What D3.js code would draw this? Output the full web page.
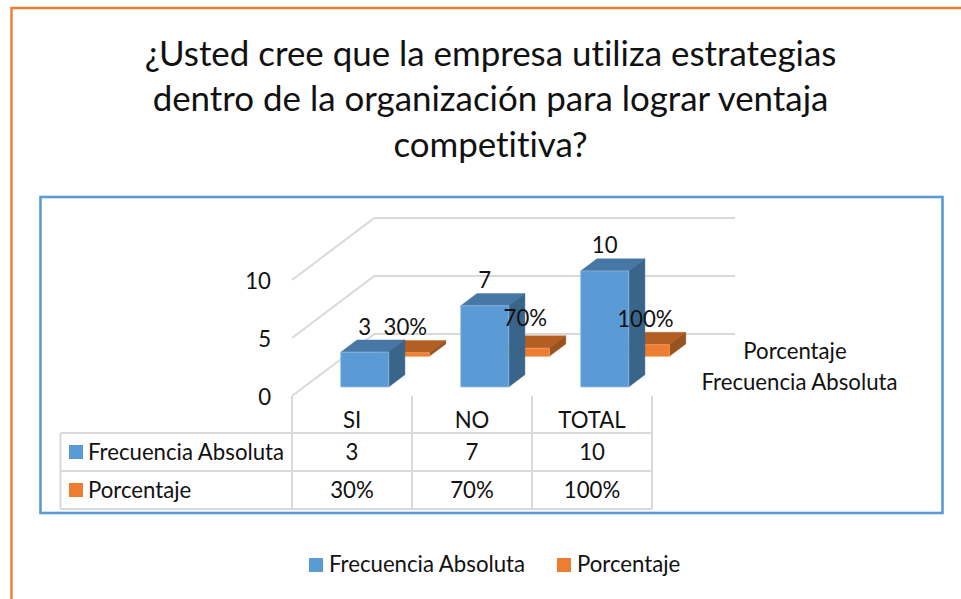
<!DOCTYPE html>
<html><head><meta charset="utf-8">
<script src="https://cdn.jsdelivr.net/npm/d3@7"></script>
<style>html,body{margin:0;padding:0;background:#fff}svg{display:block}text{font-family:Lato,"Open Sans",sans-serif;fill:#111;font-variant-ligatures:none;font-feature-settings:"liga" 0}</style>
</head><body><svg id="c" width="961" height="599"></svg>
<script>
const titleLines = ["¿Usted cree que la empresa utiliza estrategias","dentro de la organización para lograr ventaja","competitiva?"];
const categories = ["SI","NO","TOTAL"];
const frecuencia = [3,7,10];
const porcentaje = [0.3,0.7,1];
const porcentajeLabels = ["30%","70%","100%"];
const yTicks = [0,5,10];
const seriesNames = ["Frecuencia Absoluta","Porcentaje"];

const svg = d3.select("#c");
const FS = 22.2;
const C = {blue:"#5B9BD5",blueTop:"#4777A4",blueSide:"#3A658B",blueEdge:"#8DB8E0",
  orange:"#ED7D31",orangeTop:"#B35E22",orangeSide:"#9A521E",grid:"#D9D9D9"};

// frames
svg.append("path").attr("d","M11.5 599V8H961").attr("fill","none").attr("stroke",C.orange).attr("stroke-width",2.4);
svg.append("rect").attr("x",40.5).attr("y",197).attr("width",902).attr("height",316)
  .attr("fill","none").attr("stroke",C.blue).attr("stroke-width",2.6);

// title
svg.append("g").selectAll("text").data(titleLines).join("text")
  .attr("x",490.5).attr("y",(d,i)=>65.5+i*45.5).attr("text-anchor","middle").attr("font-size",34.9).text(d=>d);

// scales
const x = d3.scaleBand().domain(categories).range([292,652]).paddingInner(0).paddingOuter(0);
const y = d3.scaleLinear().domain([0,10]).range([396,280]);
const depthX = d3.scaleLinear().domain([0,1]).range([0,82.3]);
const depthY = d3.scaleLinear().domain([0,1]).range([0,-62]);
const barW = 48, barInset = 36.7;
const P = (px,v,d)=>[px+depthX(d), y(v)+depthY(d)];
const line = d3.line();

// walls & grid
const g = svg.append("g").attr("fill","none").attr("stroke",C.grid).attr("stroke-width",2);
yTicks.forEach(t=>{
  g.append("path").attr("d",line([P(292,t,0),P(292,t,1),[735,P(292,t,1)[1]]]));
});

// 3D bar
function bar(cat,v,dFront,dBack,cols){
  const x0=x(cat)+barInset, x1=x0+barW;
  const poly=(pts,fill,stroke)=>svg.append("path").attr("d",line(pts)+"Z").attr("fill",fill)
      .attr("stroke",stroke||fill).attr("stroke-width",stroke?0.8:0.4);
  poly([P(x0,v,dFront),P(x0,v,dBack),P(x1,v,dBack),P(x1,v,dFront)],cols[1]);
  poly([P(x1,0,dFront),P(x1,0,dBack),P(x1,v,dBack),P(x1,v,dFront)],cols[2]);
  poly([P(x0,0,dFront),P(x1,0,dFront),P(x1,v,dFront),P(x0,v,dFront)],cols[0],cols[3]);
}
const dBlue=[0.146,0.343], dOrange=[0.64,0.84];
const oCols=[C.orange,C.orangeTop,C.orangeSide,"#F29A5C"], bCols=[C.blue,C.blueTop,C.blueSide,C.blueEdge];
categories.forEach((c,i)=>bar(c,porcentaje[i],dOrange[0],dOrange[1],oCols));
categories.forEach((c,i)=>bar(c,frecuencia[i],dBlue[0],dBlue[1],bCols));

// data labels
const lab=(px,py,t)=>svg.append("text").attr("x",px).attr("y",py).attr("text-anchor","middle").attr("font-size",FS).text(t);
categories.forEach((c,i)=>{
  const xc=x(c)+barInset+barW/2;
  const a=P(xc,frecuencia[i],dBlue[0]); lab(a[0],a[1]-17.5,frecuencia[i]);
  const b=P(xc,porcentaje[i],dOrange[0]); lab(b[0],b[1]-(i===1?22:18),porcentajeLabels[i]);
});

// value axis
const ax=svg.append("g").attr("transform","translate(276,0)").call(d3.axisLeft(y).tickValues(yTicks).tickSize(0));
ax.select(".domain").remove();
ax.selectAll("text").attr("font-size",FS).attr("dy","0.4em").attr("x",-5).style("font-family","Lato").style("fill","#111");

// depth labels
svg.append("text").attr("x",795).attr("y",358.5).attr("text-anchor","middle").attr("font-size",FS).text(seriesNames[1]);
svg.append("text").attr("x",799.5).attr("y",389.5).attr("text-anchor","middle").attr("font-size",FS).text(seriesNames[0]);

// data table
const rowY=[433,471,509];
const t=svg.append("g").attr("stroke",C.grid).attr("stroke-width",2).attr("fill","none");
rowY.forEach(v=>t.append("line").attr("x1",60.5).attr("x2",652).attr("y1",v).attr("y2",v));
[292,...categories.map(c=>x(c)+x.bandwidth())].forEach(v=>t.append("line").attr("x1",v).attr("x2",v).attr("y1",396).attr("y2",509));
t.append("line").attr("x1",60.5).attr("x2",60.5).attr("y1",433).attr("y2",509);
const xa=svg.append("g").attr("transform","translate(0,396)").call(d3.axisBottom(x).tickSize(0));
xa.select(".domain").remove();
xa.selectAll("text").attr("font-size",FS).attr("y",0).attr("dy","31.5").style("font-family","Lato").style("fill","#111");
const rows=[[seriesNames[0],C.blue,frecuencia.map(String)],[seriesNames[1],C.orange,porcentajeLabels]];
rows.forEach((r,j)=>{
  const my=(rowY[j]+rowY[j+1])/2;
  svg.append("rect").attr("x",69).attr("y",my-7).attr("width",14).attr("height",14).attr("fill",r[1]);
  svg.append("text").attr("x",88).attr("y",my+7.5).attr("font-size",FS).text(r[0]);
  r[2].forEach((s,i)=>svg.append("text").attr("x",x(categories[i])+x.bandwidth()/2).attr("y",my+7.5).attr("text-anchor","middle").attr("font-size",FS).text(s));
});

// legend
[[309,329,C.blue,seriesNames[0]],[557,577,C.orange,seriesNames[1]]].forEach(l=>{
  svg.append("rect").attr("x",l[0]).attr("y",558).attr("width",14).attr("height",14).attr("fill",l[2]);
  svg.append("text").attr("x",l[1]).attr("y",572).attr("font-size",FS).text(l[3]);
});
</script></body></html>
